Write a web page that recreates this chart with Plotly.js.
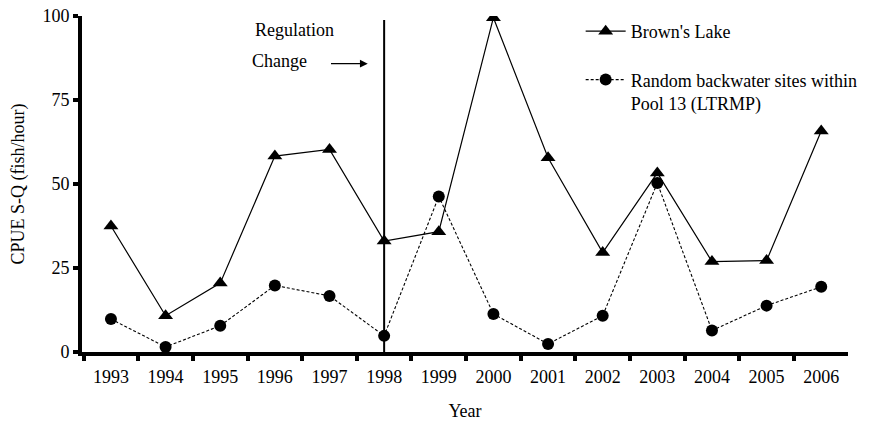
<!DOCTYPE html>
<html>
<head>
<meta charset="utf-8">
<script src="https://cdn.plot.ly/plotly-3.0.1.min.js"></script>
<style>html,body{margin:0;padding:0;background:#fff;}#chart{width:872px;height:427px;}</style>
</head>
<body>
<div id="chart"></div>
<script>
var years = [1993,1994,1995,1996,1997,1998,1999,2000,2001,2002,2003,2004,2005,2006];
var brownsLake = [37.5,10.8,20.5,58.3,60.3,33.0,35.8,99.5,57.8,29.6,53.3,26.9,27.2,65.8];
var backwater = [9.8,1.5,7.8,19.8,16.7,4.8,46.3,11.3,2.4,10.8,50.3,6.4,13.8,19.4];
var yTicks = [0,25,50,75,100];
var regulationYear = 1998;

var font = {family: "'Liberation Serif'", size: 18, color: '#000'};

var traces = [
  {
    x: years, y: brownsLake, type: 'scatter', mode: 'lines+markers',
    name: "Brown's Lake", legendgroup: 'a',
    line: {color: '#000', width: 1.2},
    marker: {symbol: 'triangle-up', size: 13, color: '#000'}
  },
  {
    x: years, y: backwater, type: 'scatter', mode: 'lines+markers',
    name: 'Random backwater sites within<br>Pool 13 (LTRMP)', legendgroup: 'b',
    line: {color: '#000', width: 1.1, dash: '3px,2px'},
    marker: {symbol: 'circle', size: 12, color: '#000'}
  }
];

var layout = {
  width: 872, height: 427,
  margin: {l: 82, r: 24, t: 16, b: 75, autoexpand: false},
  paper_bgcolor: '#fff', plot_bgcolor: '#fff',
  font: font,
  showlegend: true,
  legend: {
    x: 0.651, y: 1.009, xanchor: 'left', yanchor: 'top',
    font: font, bgcolor: 'rgba(0,0,0,0)', tracegroupgap: 22,
    traceorder: 'grouped', valign: 'top', itemwidth: 40
  },
  xaxis: {
    range: [1992.47, 2006.49],
    tickvals: years, ticktext: years.map(String),
    ticks: '', showgrid: false, zeroline: false,
    showline: true, linecolor: '#000', linewidth: 4,
    tickfont: font, ticklabelstandoff: 5,
    minor: {tick0: 1992.5, dtick: 1, ticks: 'outside', ticklen: 5, tickwidth: 4, tickcolor: '#000', showgrid: false},
    title: {text: 'Year', font: font, standoff: 20}
  },
  yaxis: {
    range: [0, 100],
    tickvals: yTicks,
    ticks: 'outside', ticklen: 5, tickwidth: 4, tickcolor: '#000',
    showgrid: false, zeroline: false,
    showline: true, linecolor: '#000', linewidth: 4,
    tickfont: font,
    title: {text: 'CPUE S-Q (fish/hour)', font: font, standoff: 14}
  },
  shapes: [
    {type: 'line', xref: 'x', yref: 'y', x0: regulationYear, x1: regulationYear, y0: 0, y1: 98.8,
     line: {color: '#000', width: 2}}
  ],
  annotations: [
    {xref: 'x', yref: 'y', x: 1996.36, y: 95.8, text: 'Regulation', showarrow: false, font: font},
    {xref: 'x', yref: 'y', x: 1996.08, y: 86.5, text: 'Change', showarrow: false, font: font},
    {xref: 'x', yref: 'y', axref: 'x', ayref: 'y', x: 1997.7, y: 85.8, ax: 1997.0, ay: 85.8,
     text: '', showarrow: true, arrowhead: 2, arrowsize: 1.2, arrowwidth: 1.3, arrowcolor: '#000'}
  ]
};

Plotly.newPlot('chart', traces, layout, {displayModeBar: false, staticPlot: true});
</script>
</body>
</html>
